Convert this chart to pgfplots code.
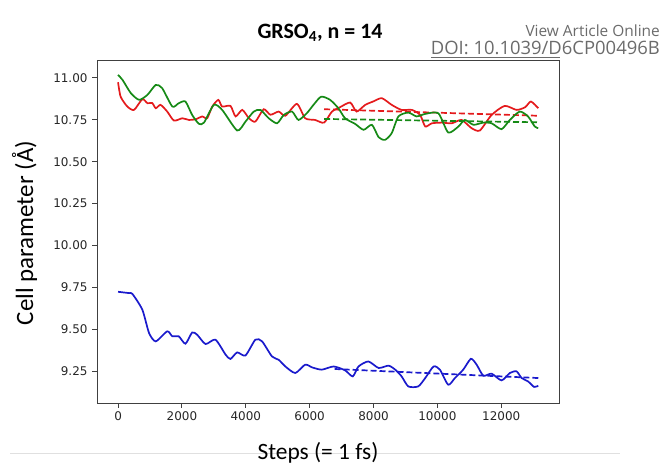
\documentclass[border=0pt]{standalone}
\usepackage{pgfplots}
\pgfplotsset{compat=1.18}
\usepackage{fontspec}
\setmainfont{DejaVu Sans}
\newfontfamily\carlito{Carlito}
\newfontfamily\opensans{Open Sans}
\definecolor{cred}{HTML}{E41A1C}
\definecolor{cgreen}{HTML}{168A16}
\definecolor{cblue}{HTML}{1A1ACC}
\begin{document}
\begin{tikzpicture}[x=1bp,y=1bp]
\path[use as bounding box] (0,0) rectangle (663,475);
\begin{axis}[at={(97bp,72bp)}, anchor=south west, width=462bp, height=343bp, scale only axis,
  xmin=-660, xmax=13810, ymin=9.059, ymax=11.107,
  xtick={0,2000,4000,6000,8000,10000,12000},
  ytick={9.25,9.5,9.75,10,10.25,10.5,10.75,11},
  yticklabel={\pgfmathprintnumber[fixed,fixed zerofill,precision=2]{\tick}},
  scaled x ticks=false,
  /pgf/number format/1000 sep={},
  /pgf/number format/assume math mode=true,
  tick label style={font=\fontsize{12}{14}\selectfont, text=black!85},
  yticklabel style={xshift=-1bp},
  tick align=outside, tick pos=left, major tick length=5bp,
  axis line style={black!75, line width=0.9bp},
  every tick/.style={black!75, line width=0.9bp},
  clip=false,
]
% blue
\addplot[cblue, line width=1.7bp, smooth, tension=0.4] coordinates {
(0,9.723)(344,9.715)(450,9.71)(760,9.616)(970,9.477)(1180,9.427)(1540,9.487)(1700,9.457)(1900,9.457)(2110,9.413)(2320,9.48)(2480,9.466)(2740,9.411)(3050,9.437)(3370,9.347)(3520,9.322)(3730,9.361)(3990,9.343)(4300,9.437)(4510,9.427)(4820,9.337)(5030,9.317)(5240,9.277)(5550,9.238)(5860,9.288)(6070,9.272)(6380,9.258)(6750,9.277)(7110,9.254)(7350,9.218)(7530,9.277)(7840,9.307)(8160,9.268)(8470,9.282)(8680,9.258)(8880,9.218)(9090,9.158)(9400,9.158)(9620,9.208)(9880,9.277)(10080,9.258)(10340,9.168)(10550,9.208)(10810,9.258)(11050,9.323)(11230,9.288)(11440,9.222)(11700,9.234)(12010,9.194)(12270,9.238)(12480,9.248)(12640,9.208)(12840,9.188)(13030,9.155)(13160,9.162)
};
\addplot[cblue, line width=1.7bp, dash pattern=on 6bp off 3bp] coordinates {(6780,9.262)(13160,9.208)};
% red
\addplot[cred, line width=1.7bp, smooth, tension=0.4] coordinates {
(0,10.974)(80,10.888)(290,10.829)(500,10.809)(760,10.873)(920,10.849)(1070,10.85)(1180,10.819)(1330,10.839)(1540,10.799)(1750,10.745)(2010,10.759)(2220,10.749)(2430,10.753)(2640,10.77)(2790,10.759)(2950,10.829)(3140,10.869)(3260,10.829)(3520,10.833)(3680,10.77)(3890,10.809)(4100,10.759)(4300,10.739)(4560,10.813)(4770,10.78)(5030,10.799)(5240,10.774)(5600,10.845)(5860,10.759)(6170,10.749)(6450,10.733)(6700,10.799)(6950,10.825)(7270,10.853)(7470,10.799)(7740,10.839)(8000,10.86)(8260,10.879)(8570,10.839)(8880,10.809)(9200,10.809)(9460,10.779)(9620,10.71)(9830,10.729)(10140,10.733)(10450,10.729)(10760,10.749)(11070,10.70)(11330,10.686)(11700,10.779)(12110,10.833)(12480,10.809)(12750,10.825)(12930,10.859)(13160,10.819)
};
\addplot[cred, line width=1.7bp, dash pattern=on 6bp off 3bp] coordinates {(6450,10.813)(13160,10.774)};
% green
\addplot[cgreen, line width=1.7bp, smooth, tension=0.4] coordinates {
(0,11.018)(140,10.988)(400,10.909)(660,10.869)(920,10.899)(1180,10.958)(1380,10.939)(1700,10.829)(1900,10.849)(2110,10.859)(2320,10.779)(2530,10.726)(2690,10.733)(3000,10.839)(3260,10.809)(3730,10.686)(3990,10.739)(4250,10.799)(4460,10.809)(4720,10.759)(4980,10.729)(5190,10.779)(5450,10.799)(5650,10.749)(5910,10.789)(6120,10.839)(6360,10.888)(6640,10.869)(6900,10.819)(7110,10.759)(7420,10.726)(7690,10.69)(7950,10.72)(8160,10.646)(8360,10.63)(8570,10.67)(8780,10.77)(9090,10.793)(9350,10.77)(9620,10.785)(10030,10.789)(10340,10.674)(10660,10.71)(10860,10.749)(11130,10.72)(11440,10.733)(11700,10.729)(12010,10.694)(12270,10.749)(12580,10.799)(12840,10.77)(13050,10.71)(13160,10.70)
};
\addplot[cgreen, line width=1.7bp, dash pattern=on 6bp off 3bp] coordinates {(6450,10.755)(13160,10.735)};
\end{axis}
\draw[black!12, line width=0.8bp] (10,21.7) -- (620,21.7);
\node[font=\carlito\bfseries\fontsize{22}{24}\selectfont, anchor=base, inner sep=0pt] at (320,436.7) {GRSO\textsubscript{4}, n = 14};
\node[font=\carlito\fontsize{25}{28}\selectfont, rotate=90, anchor=base, inner sep=0pt] at (33,242) {Cell parameter (Å)};
\node[font=\carlito\fontsize{23.5}{26}\selectfont, anchor=base, inner sep=0pt] at (318,15) {Steps (= 1 fs)};
\node[font=\opensans\fontsize{15.5}{17}\selectfont, text=black!58, anchor=base east, inner sep=0pt] at (660,438.3) {View Article Online};
\node[font=\opensans\fontsize{18.5}{20}\selectfont, text=black!58, anchor=base east, inner sep=0pt] at (660,420) {DOI: 10.1039/D6CP00496B};
\draw[black!58, line width=0.7bp] (431,417.5) -- (560,417.5);
\end{tikzpicture}
\end{document}
